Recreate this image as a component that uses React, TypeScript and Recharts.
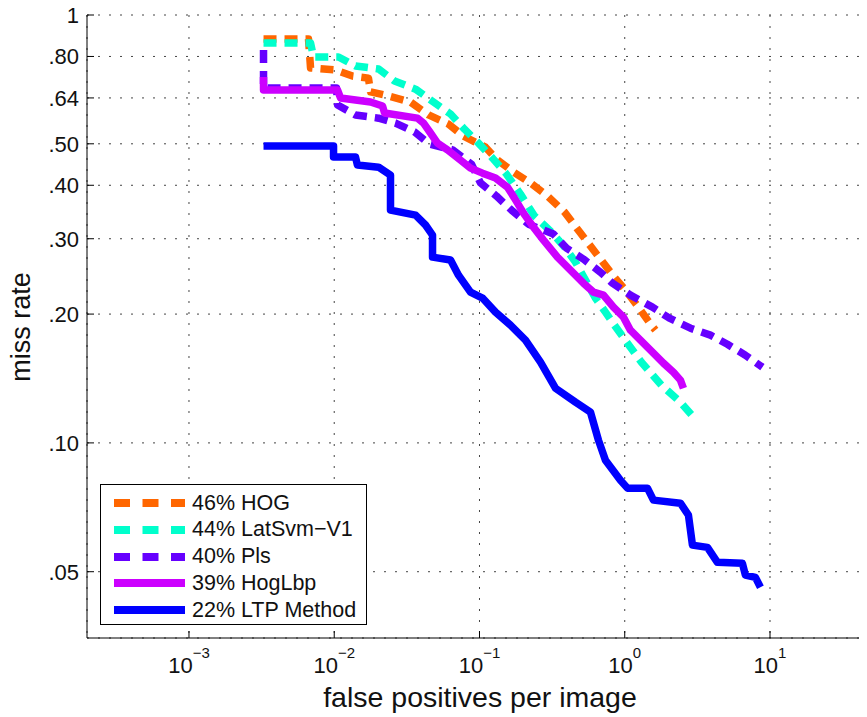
import { LineChart, Line, XAxis, YAxis, CartesianGrid } from 'recharts';

const FONT = '"Liberation Sans", Arial, Helvetica, sans-serif';

const seriesNames = ['46% HOG', '44% LatSvm\u2212V1', '40% Pls', '39% HogLbp', '22% LTP Method'];
const seriesColors = ['#ff6600', '#00ffcc', '#6600ff', '#cc00ff', '#0000ff'];
const seriesDashed = [true, true, true, false, false];

// fppi / miss rate pairs
const hogFppi = [0.00326, 0.00665, 0.00687, 0.0102, 0.01336, 0.0172, 0.01778, 0.02364, 0.0335, 0.0446, 0.0612, 0.0776, 0.11, 0.133, 0.1714, 0.2244, 0.2892, 0.3846, 0.4956, 0.6487, 0.836, 1.011, 1.243, 1.503, 1.627];
const hogMiss = [0.879, 0.879, 0.752, 0.744, 0.72, 0.712, 0.661, 0.647, 0.626, 0.584, 0.556, 0.521, 0.491, 0.458, 0.4295, 0.405, 0.3795, 0.3463, 0.3093, 0.2747, 0.2453, 0.2275, 0.2076, 0.1895, 0.1834];

const latFppi = [0.00326, 0.00687, 0.0072, 0.0107, 0.014, 0.0202, 0.026, 0.0363, 0.0482, 0.0632, 0.0788, 0.0984, 0.1229, 0.1534, 0.1915, 0.239, 0.313, 0.3907, 0.4578, 0.5366, 0.6286, 0.7365, 0.849, 1.044, 1.303, 1.789, 2.417, 3.115];
const latMiss = [0.86, 0.86, 0.798, 0.798, 0.76, 0.748, 0.701, 0.671, 0.626, 0.587, 0.541, 0.502, 0.463, 0.4248, 0.3815, 0.339, 0.311, 0.2852, 0.2646, 0.2401, 0.218, 0.2021, 0.1884, 0.171, 0.1544, 0.1364, 0.1245, 0.113];

const plsFppi = [0.00326, 0.00326, 0.01037, 0.01054, 0.014, 0.0202, 0.0264, 0.0357, 0.0453, 0.0652, 0.0881, 0.1016, 0.1309, 0.166, 0.2175, 0.323, 0.397, 0.5196, 0.68, 0.823, 1.094, 1.551, 2.03, 2.833, 3.889, 5.091, 6.77, 8.866];
const plsMiss = [0.828, 0.675, 0.675, 0.616, 0.584, 0.574, 0.559, 0.533, 0.499, 0.484, 0.448, 0.405, 0.3774, 0.35, 0.3245, 0.3076, 0.2852, 0.2689, 0.2506, 0.2362, 0.2215, 0.2076, 0.1956, 0.1854, 0.1786, 0.17, 0.1603, 0.1503];

const hogLbpFppi = [0.00326, 0.00326, 0.01054, 0.01105, 0.01778, 0.0215, 0.0222, 0.0374, 0.0412, 0.046, 0.0514, 0.0602, 0.074, 0.0867, 0.1049, 0.1289, 0.1559, 0.1741, 0.2009, 0.2352, 0.2758, 0.3441, 0.4435, 0.5196, 0.609, 0.7137, 0.836, 0.98, 1.094, 1.282, 1.576, 1.846, 2.164, 2.417, 2.535];
const hogLbpMiss = [0.716, 0.668, 0.668, 0.64, 0.626, 0.613, 0.59, 0.574, 0.559, 0.53, 0.502, 0.484, 0.458, 0.4387, 0.427, 0.416, 0.396, 0.3733, 0.3444, 0.3193, 0.2978, 0.2717, 0.2493, 0.2362, 0.2251, 0.2215, 0.2076, 0.1967, 0.1834, 0.1738, 0.1621, 0.1536, 0.1463, 0.1402, 0.1342];

const ltpFppi = [0.00326, 0.00989, 0.00989, 0.014, 0.01445, 0.0202, 0.0244, 0.0244, 0.0363, 0.0425, 0.0475, 0.0475, 0.0632, 0.0717, 0.0867, 0.1049, 0.1289, 0.1634, 0.2073, 0.263, 0.3334, 0.4578, 0.5807, 0.659, 0.7365, 0.934, 1.044, 1.433, 1.576, 2.417, 2.745, 2.924, 3.709, 4.345, 6.457, 6.77, 7.935, 8.59];
const ltpMiss = [0.494, 0.494, 0.466, 0.466, 0.446, 0.441, 0.4225, 0.35, 0.3406, 0.323, 0.306, 0.2717, 0.2675, 0.2466, 0.2251, 0.218, 0.2021, 0.1884, 0.1738, 0.1544, 0.1342, 0.1245, 0.118, 0.1015, 0.0911, 0.0818, 0.0784, 0.0784, 0.0735, 0.0723, 0.0678, 0.0577, 0.057, 0.0526, 0.0523, 0.0491, 0.0485, 0.046];

const xTicks = [0.001, 0.01, 0.1, 1, 10];
const xTickExp = ['\u22123', '\u22122', '\u22121', '0', '1'];
const yTicks = [0.05, 0.1, 0.2, 0.3, 0.4, 0.5, 0.64, 0.8, 1];
const yTickLabels = ['.05', '.10', '.20', '.30', '.40', '.50', '.64', '.80', '1'];

const zip = (xs: number[], ys: number[]) => xs.map((x, i) => ({ fppi: x, miss: ys[i] }));
const series = [
  zip(hogFppi, hogMiss),
  zip(latFppi, latMiss),
  zip(plsFppi, plsMiss),
  zip(hogLbpFppi, hogLbpMiss),
  zip(ltpFppi, ltpMiss),
];

function XTick(props: any) {
  const { x, y, payload } = props;
  const i = xTicks.indexOf(payload.value);
  return (
    <g>
      <line x1={x} x2={x} y1={y} y2={y - 7} stroke="#000" />
      <text x={x} y={y + 35} textAnchor="middle" fontFamily={FONT} fontSize={22} fill="#111">
        10
        <tspan dy={-15} fontSize={15}>{xTickExp[i]}</tspan>
      </text>
    </g>
  );
}

function YTick(props: any) {
  const { x, y, payload } = props;
  const i = yTicks.indexOf(payload.value);
  return (
    <g>
      <line x1={x} x2={x + 7} y1={y} y2={y} stroke="#000" />
      <text x={x - 8} y={y} dy="0.36em" textAnchor="end" fontFamily={FONT} fontSize={22} fill="#111">
        {yTickLabels[i]}
      </text>
    </g>
  );
}

function LegendBox() {
  return (
    <div
      style={{
        position: 'absolute', left: 92, top: 479, width: 265, height: 139,
        border: '1px solid #000', background: '#fff', fontFamily: FONT, fontSize: 21.5,
      }}
    >
      {seriesNames.map((name, i) => (
        <div key={name} style={{ position: 'absolute', left: 0, top: 18 + i * 26.8 - 13, height: 26, display: 'flex', alignItems: 'center' }}>
          <svg width={91} height={26}>
            <line
              x1={13} x2={84} y1={13} y2={13}
              stroke={seriesColors[i]} strokeWidth={8}
              strokeDasharray={seriesDashed[i] ? '16 12.5' : undefined}
            />
          </svg>
          <span style={{ color: '#111', whiteSpace: 'nowrap' }}>{name}</span>
        </div>
      ))}
    </div>
  );
}

export default function App() {
  return (
    <div style={{ position: 'relative', width: 859, height: 712, marginTop: -3 }}>
      <LineChart width={859} height={703} margin={{ top: 10, right: 2, left: 0, bottom: 0 }}>
        <CartesianGrid stroke="#444" strokeDasharray="2 9" />
        <XAxis
          dataKey="fppi" type="number" scale="log"
          domain={[0.0001986, 45.08]} allowDataOverflow
          ticks={xTicks} tick={(p: any) => <XTick {...p} />}
          tickSize={0} tickMargin={0} tickLine={false}
          height={70} axisLine={{ stroke: '#000' }}
        />
        <YAxis
          type="number" scale="log"
          domain={[0.035, 1]} allowDataOverflow
          ticks={yTicks} tick={(p: any) => <YTick {...p} />}
          tickSize={0} tickMargin={0} tickLine={false}
          width={79} axisLine={{ stroke: '#000' }}
        />
        {series.map((data, i) => (
          <Line
            key={seriesNames[i]}
            data={data}
            dataKey="miss"
            name={seriesNames[i]}
            type="linear"
            stroke={seriesColors[i]}
            strokeWidth={7.5}
            strokeDasharray={seriesDashed[i] ? '13 8' : undefined}
            strokeLinejoin="round"
            dot={false}
            activeDot={false}
            isAnimationActive={false}
          />
        ))}
      </LineChart>
      <div
        style={{
          position: 'absolute', left: 13, top: 322, transform: 'translate(-50%, -50%) rotate(-90deg)',
          fontFamily: FONT, fontSize: 27, color: '#111', whiteSpace: 'nowrap',
        }}
      >
        miss rate
      </div>
      <div
        style={{
          position: 'absolute', left: 472, top: 692, transform: 'translate(-50%, -50%)',
          fontFamily: FONT, fontSize: 28.5, color: '#111', whiteSpace: 'nowrap',
        }}
      >
        false positives per image
      </div>
      <LegendBox />
    </div>
  );
}
